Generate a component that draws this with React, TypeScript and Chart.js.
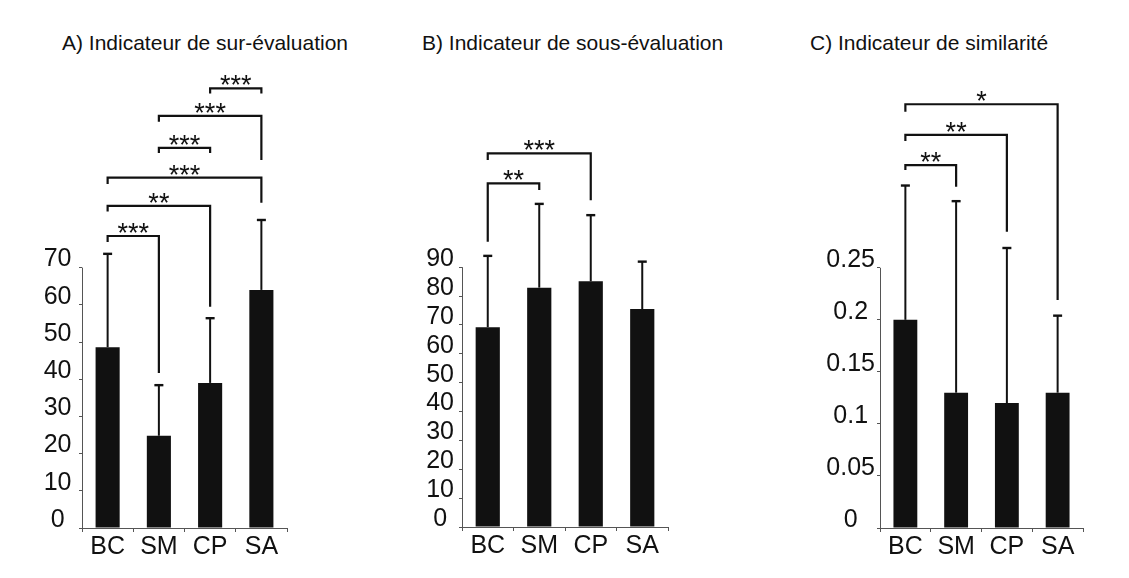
import React, { useEffect, useRef } from "react";
import { Chart, registerables } from "chart.js";

Chart.register(...registerables);

// ---------- data ----------
const categories = ["BC", "SM", "CP", "SA"];

// A) sur-évaluation
const overMeans = [48.6, 24.8, 39.0, 64.0];
const overErrors = [25.1, 13.6, 17.4, 18.8];
const overTickValues = [0, 10, 20, 30, 40, 50, 60, 70];
const overTickLabels = ["0", "10", "20", "30", "40", "50", "60", "70"];
// [from, to, label, level, leftEnd, rightEnd]
const overBrackets: [number, number, string, number, number, number][] = [
  [0, 1, "***", 78.5, 76.9, 41.7],
  [0, 2, "**", 86.6, 85.1, 59.5],
  [0, 3, "***", 94.2, 92.5, 87.4],
  [1, 2, "***", 102.2, 100.8, 100.8],
  [1, 3, "***", 110.8, 109.2, 98.9],
  [2, 3, "***", 118.2, 116.8, 116.8],
];

// B) sous-évaluation
const underMeans = [69.2, 82.9, 85.1, 75.5];
const underErrors = [24.7, 29.0, 22.9, 16.4];
const underTickValues = [0, 10, 20, 30, 40, 50, 60, 70, 80, 90];
const underTickLabels = ["0", "10", "20", "30", "40", "50", "60", "70", "80", "90"];
const underBrackets: [number, number, string, number, number, number][] = [
  [0, 1, "**", 119.0, 98.8, 116.7],
  [0, 2, "***", 129.4, 127.1, 113.2],
];

// C) similarité
const simMeans = [0.2, 0.13, 0.12, 0.13];
const simErrors = [0.129, 0.184, 0.149, 0.074];
const simTickValues = [0, 0.05, 0.1, 0.15, 0.2, 0.25];
const simTickLabels = ["0", "0.05", "0.1", "0.15", "0.2", "0.25"];
const simBrackets: [number, number, string, number, number, number][] = [
  [0, 1, "**", 0.3487, 0.3439, 0.3279],
  [0, 2, "**", 0.3776, 0.3718, 0.2847],
  [0, 3, "*", 0.4071, 0.4, 0.219],
];

// ---------- layout ----------
const W = 1129;
const H = 578;
const FONT = "'Liberation Sans', Arial, sans-serif";
const INK = "#111111";
const AXIS = "#555555";

type Panel = {
  id: string;
  means: number[];
  errors: number[];
  tickValues: number[];
  tickLabels: string[];
  brackets: [number, number, string, number, number, number][];
  left: number;
  right: number;
  zeroY: number;
  top: number;
  max: number;
  labelPad: number;
};

const panels: Panel[] = [
  {
    id: "A",
    means: overMeans,
    errors: overErrors,
    tickValues: overTickValues,
    tickLabels: overTickLabels,
    brackets: overBrackets,
    left: 82,
    right: 287,
    zeroY: 528,
    top: 63,
    max: 125,
    labelPad: 7.5,
  },
  {
    id: "B",
    means: underMeans,
    errors: underErrors,
    tickValues: underTickValues,
    tickLabels: underTickLabels,
    brackets: underBrackets,
    left: 462,
    right: 668,
    zeroY: 527,
    top: 65,
    max: 160,
    labelPad: 5,
  },
  {
    id: "C",
    means: simMeans,
    errors: simErrors,
    tickValues: simTickValues,
    tickLabels: simTickLabels,
    brackets: simBrackets,
    left: 880,
    right: 1083,
    zeroY: 528,
    top: 70,
    max: 0.44,
    labelPad: 2,
  },
];

const titles = [
  { text: "A) Indicateur de sur-évaluation", x: 62 },
  { text: "B) Indicateur de sous-évaluation", x: 422 },
  { text: "C) Indicateur de similarité", x: 810 },
];

function makeChart(canvas: HTMLCanvasElement, p: Panel) {
  const annot = {
    id: "annot" + p.id,
    afterDraw(chart: any) {
      const ctx = chart.ctx as CanvasRenderingContext2D;
      const xs = chart.scales.x;
      const ys = chart.scales.y;
      const area = chart.chartArea;
      ctx.save();
      // y axis line (only up to the last tick)
      const ax = Math.round(area.left) + 0.5;
      ctx.strokeStyle = AXIS;
      ctx.lineWidth = 1;
      ctx.beginPath();
      ctx.moveTo(ax, ys.getPixelForValue(0));
      ctx.lineTo(ax, ys.getPixelForValue(p.tickValues[p.tickValues.length - 1]));
      ctx.stroke();

      // error bars
      const meta = chart.getDatasetMeta(0);
      ctx.strokeStyle = INK;
      p.means.forEach((m, i) => {
        const x = meta.data[i].x;
        const yb = ys.getPixelForValue(m);
        const yt = ys.getPixelForValue(m + p.errors[i]);
        ctx.lineWidth = 2;
        ctx.beginPath();
        ctx.moveTo(x, yb);
        ctx.lineTo(x, yt);
        ctx.stroke();
        ctx.lineWidth = 2.4;
        ctx.beginPath();
        ctx.moveTo(x - 4.5, yt);
        ctx.lineTo(x + 4.5, yt);
        ctx.stroke();
      });

      // significance brackets
      ctx.lineWidth = 2.2;
      ctx.lineJoin = "miter";
      ctx.fillStyle = INK;
      ctx.font = `27px ${FONT}`;
      ctx.textAlign = "center";
      ctx.textBaseline = "alphabetic";
      p.brackets.forEach(([a, b, label, level, le, re]) => {
        const x1 = xs.getPixelForValue(a);
        const x2 = xs.getPixelForValue(b);
        const yl = ys.getPixelForValue(level);
        ctx.beginPath();
        ctx.moveTo(x1, ys.getPixelForValue(le));
        ctx.lineTo(x1, yl);
        ctx.lineTo(x2, yl);
        ctx.lineTo(x2, ys.getPixelForValue(re));
        ctx.stroke();
        ctx.fillText(label, (x1 + x2) / 2, yl + 6);
      });
      ctx.restore();
    },
  };

  return new Chart(canvas, {
    type: "bar",
    data: {
      labels: categories,
      datasets: [
        {
          data: p.means,
          backgroundColor: INK,
          borderWidth: 0,
          barPercentage: 0.47,
          categoryPercentage: 1,
        },
      ],
    },
    options: {
      animation: false,
      responsive: false,
      maintainAspectRatio: false,
      events: [],
      layout: { padding: { left: 0, top: p.top, right: W - p.right, bottom: 0 } },
      plugins: {
        legend: { display: false },
        title: { display: false },
        tooltip: { enabled: false },
      },
      scales: {
        x: {
          grid: {
            offset: true,
            drawOnChartArea: false,
            tickLength: 4,
            color: AXIS,
            lineWidth: 1,
          },
          border: { display: true, color: AXIS, width: 1 },
          ticks: {
            color: INK,
            font: { family: FONT, size: 25 },
            padding: 0,
            maxRotation: 0,
            autoSkip: false,
          },
          afterFit: (s: any) => {
            s.height = H - p.zeroY;
          },
        },
        y: {
          min: 0,
          max: p.max,
          grid: {
            drawOnChartArea: false,
            tickLength: 3,
            color: AXIS,
            lineWidth: 1,
          },
          border: { display: false },
          ticks: {
            color: INK,
            font: { family: FONT, size: 25 },
            padding: p.labelPad,
            crossAlign: "center",
            labelOffset: -8,
            callback: (_v: any, i: number) => p.tickLabels[i],
          },
          afterBuildTicks: (s: any) => {
            s.ticks = p.tickValues.map((v) => ({ value: v }));
          },
          afterFit: (s: any) => {
            s.width = p.left;
          },
        },
      },
    } as any,
    plugins: [annot],
  });
}

function PanelChart({ p }: { p: Panel }) {
  const ref = useRef<HTMLCanvasElement | null>(null);
  useEffect(() => {
    if (!ref.current) return;
    const chart = makeChart(ref.current, p);
    return () => chart.destroy();
  }, [p]);
  return (
    <canvas
      ref={ref}
      width={W}
      height={H}
      style={{ position: "absolute", left: 0, top: 0, width: W, height: H }}
    />
  );
}

export default function App() {
  return (
    <div
      style={{
        position: "absolute",
        left: 0,
        top: 0,
        width: W,
        height: H,
        background: "#ffffff",
        overflow: "hidden",
      }}
    >
      {titles.map((t) => (
        <div
          key={t.text}
          style={{
            position: "absolute",
            left: t.x,
            top: 31.7,
            fontFamily: FONT,
            fontSize: 21,
            lineHeight: "21px",
            color: INK,
            whiteSpace: "nowrap",
          }}
        >
          {t.text}
        </div>
      ))}
      {panels.map((p) => (
        <PanelChart key={p.id} p={p} />
      ))}
    </div>
  );
}
